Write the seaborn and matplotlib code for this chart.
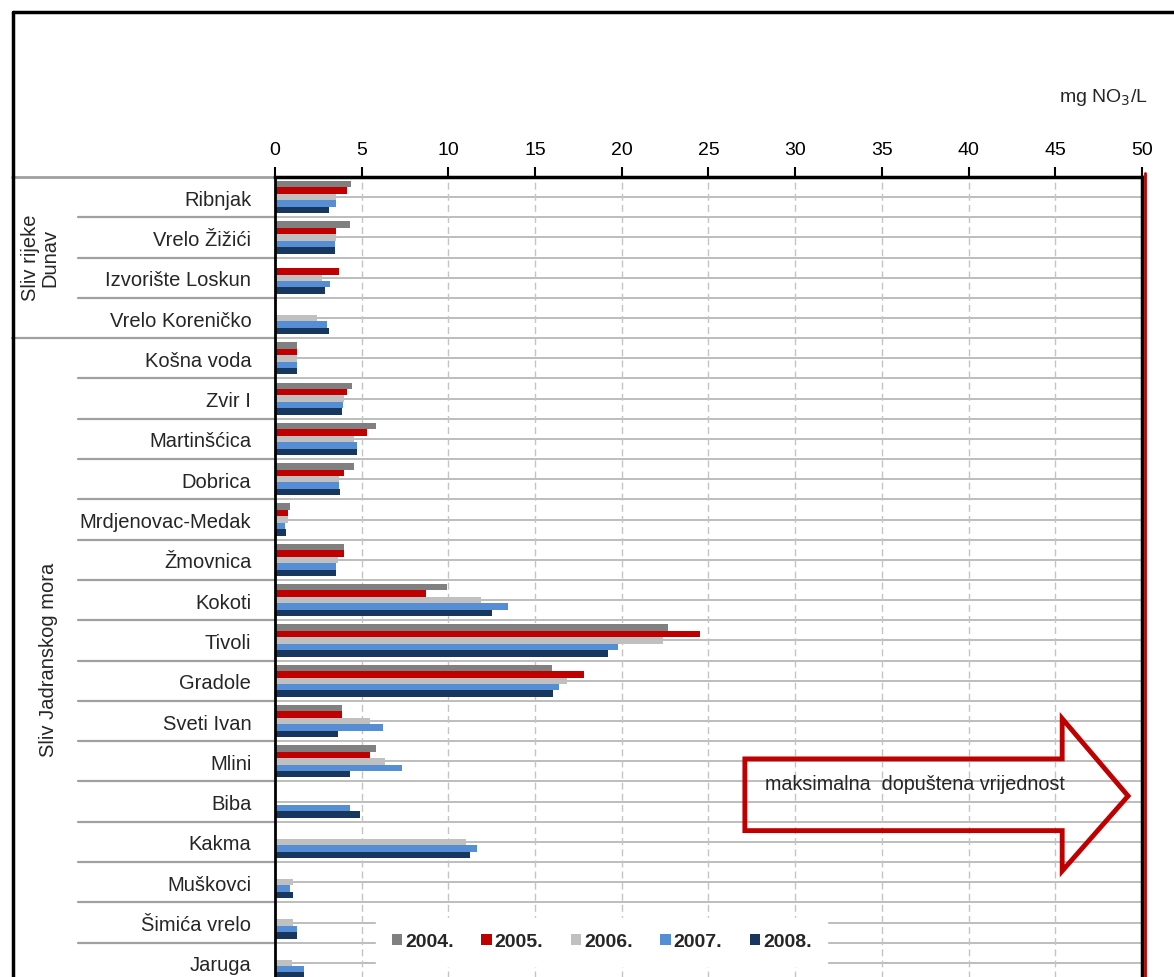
import numpy as np
import pandas as pd
import matplotlib
matplotlib.use('Agg')
import matplotlib.pyplot as plt
import matplotlib.transforms as mtransforms
from matplotlib.lines import Line2D
from matplotlib.patches import Polygon
import seaborn as sns

# Lokacije i vrijednosti (mg NO3/L)
lokacije = ['Ribnjak', 'Vrelo Žižići', 'Izvorište Loskun', 'Vrelo Koreničko',
            'Košna voda', 'Zvir I', 'Martinšćica', 'Dobrica', 'Mrdjenovac-Medak',
            'Žmovnica', 'Kokoti', 'Tivoli', 'Gradole', 'Sveti Ivan', 'Mlini',
            'Biba', 'Kakma', 'Muškovci', 'Šimića vrelo', 'Jaruga']
godine = ['2004.', '2005.', '2006.', '2007.', '2008.']
boje = ['#808080', '#c00000', '#c0c0c0', '#558ed5', '#17375e']

nan = np.nan
v2004 = [4.4, 4.3, nan, nan, 1.3, 4.45, 5.8, 4.55, 0.85, 4.0, 9.95, 22.65, 16.0, 3.85, 5.8,
         nan, nan, nan, nan, nan]
v2005 = [4.15, 3.5, 3.7, nan, 1.25, 4.15, 5.3, 4.0, 0.75, 4.0, 8.7, 24.5, 17.8, 3.85, 5.5,
         nan, nan, nan, nan, nan]
v2006 = [3.5, 3.5, 2.7, 2.45, 1.25, 4.0, 4.55, 3.7, 0.75, 3.65, 11.9, 22.4, 16.85, 5.5, 6.35,
         nan, 11.0, 1.05, 1.05, 1.0]
v2007 = [3.5, 3.45, 3.15, 3.0, 1.25, 3.95, 4.75, 3.7, 0.6, 3.5, 13.45, 19.8, 16.4, 6.25, 7.35,
         4.3, 11.65, 0.85, 1.3, 1.7]
v2008 = [3.1, 3.45, 2.9, 3.1, 1.3, 3.85, 4.75, 3.75, 0.65, 3.5, 12.5, 19.2, 16.05, 3.65, 4.3,
         4.9, 11.25, 1.05, 1.3, 1.65]

# Long-form tablica za seaborn
df = pd.DataFrame({'Lokacija': lokacije * 5,
                   'Godina': sum([[g] * len(lokacije) for g in godine], []),
                   'NO3': v2004 + v2005 + v2006 + v2007 + v2008})

sns.set_style('white')
plt.rcParams['font.family'] = ['Liberation Sans', 'DejaVu Sans']

fig = plt.figure(figsize=(11.74, 9.78), dpi=100)
ax = fig.add_axes([0.2342, -0.0061, 0.7385, 0.8241])

# Pozadinske linije (mreža tablice)
for k in np.arange(-0.5, len(lokacije), 0.5):
    ax.axhline(k, color='#b8b8b8', lw=1.3, zorder=0)
for xv in range(5, 50, 5):
    ax.axvline(xv, color='#c4c4c4', lw=1, ls=(0, (5, 3)), zorder=0)

sns.barplot(data=df, y='Lokacija', x='NO3', hue='Godina', order=lokacije,
            hue_order=godine, palette=boje, orient='h', errorbar=None,
            width=0.8, saturation=1, linewidth=0, ax=ax, zorder=2)

ax.set_xlim(0, 50)
ax.set_ylim(len(lokacije) - 0.5, -0.5)
ax.set_xlabel('')
ax.set_ylabel('')
ax.xaxis.tick_top()
ax.set_xticks(range(0, 55, 5))
ax.tick_params(axis='x', direction='out', length=7, width=1.5, labelsize=14,
               pad=7, colors='black')
ax.tick_params(axis='y', length=0, labelsize=14.5, pad=17)
for sp in ['top', 'right']:
    ax.spines[sp].set_linewidth(2.5)
    ax.spines[sp].set_color('black')
ax.spines['left'].set_linewidth(2)
ax.spines['left'].set_color('black')
ax.spines['bottom'].set_visible(False)

# Crvena linija MDK uz desni rub
red_tr = mtransforms.offset_copy(ax.transAxes, fig=fig, x=3, y=0, units='dots')
ax.add_line(Line2D([1, 1], [0, 1.005], transform=red_tr, color='#c00000', lw=2,
                   clip_on=False, zorder=5))

# Razdjelnici lijevo od osi
tr = mtransforms.blended_transform_factory(ax.transAxes, ax.transData)
for k in np.arange(0.5, len(lokacije) - 0.5, 1.0):
    x0 = -0.303 if k == 3.5 else -0.227
    ax.add_line(Line2D([x0, 0], [k, k], transform=tr, color='#a0a0a0', lw=1.6,
                       clip_on=False))
ax.add_line(Line2D([-0.303, 0], [-0.5, -0.5], transform=tr, color='#a0a0a0', lw=2,
                   clip_on=False))

fig.text(0.034, 0.736, 'Sliv rijeke\nDunav', rotation=90, ha='center', va='center',
         fontsize=14.5, linespacing=1.0)
fig.text(0.041, 0.325, 'Sliv Jadranskog mora', rotation=90, ha='center', va='center',
         fontsize=14.5)
fig.text(0.978, 0.9, 'mg NO$_3$/L', ha='right', va='center', fontsize=14)

# Vanjski okvir
fig.add_artist(Line2D([0.011, 0.011], [0, 0.987], transform=fig.transFigure,
                      color='black', lw=2.5))
fig.add_artist(Line2D([0.011, 1.0], [0.987, 0.987], transform=fig.transFigure,
                      color='black', lw=2.5))

# Strelica "maksimalna dopuštena vrijednost"
strelica = [(0.542, 0.278), (0.908, 0.278), (0.908, 0.328), (0.984, 0.232),
            (0.908, 0.139), (0.908, 0.189), (0.542, 0.189)]
ax.add_patch(Polygon(strelica, closed=True, transform=ax.transAxes, facecolor='none',
                     edgecolor='#c00000', lw=3.5, zorder=6))
ax.text(0.565, 0.247, 'maksimalna  dopuštena vrijednost', transform=ax.transAxes,
        ha='left', va='center', fontsize=14.2, zorder=7)

leg = ax.legend(loc='center', bbox_to_anchor=(0.377, 0.051), ncol=5, frameon=True,
                facecolor='white', edgecolor='white', framealpha=1, fontsize=14,
                handlelength=0.55, handleheight=0.55, handletextpad=0.15,
                columnspacing=1.4, borderpad=0.8)
for t in leg.get_texts():
    t.set_fontweight('bold')
leg.set_zorder(8)

fig.savefig('out.png', dpi=100)
